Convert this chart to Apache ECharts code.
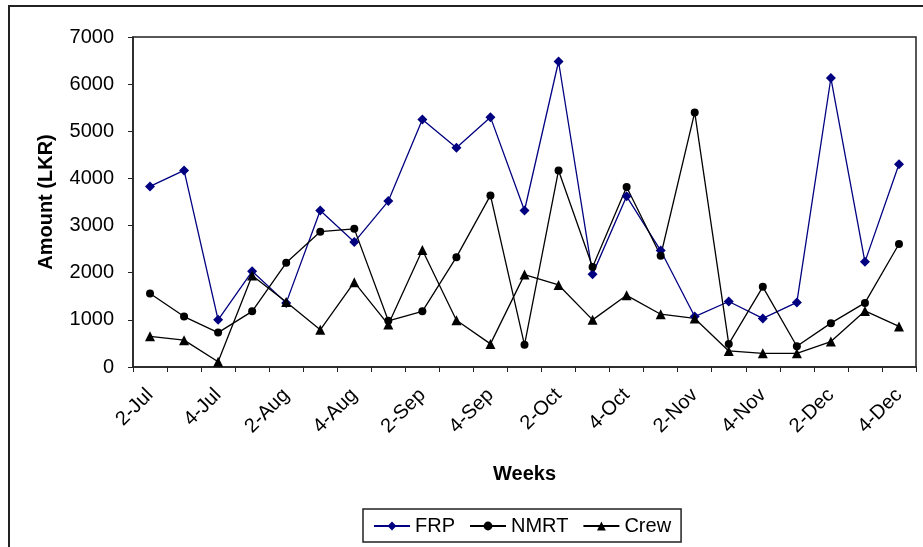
<!DOCTYPE html>
<html>
<head>
<meta charset="utf-8">
<script src="https://cdn.jsdelivr.net/npm/echarts@6/dist/echarts.min.js"></script>
<style>
  html, body { margin: 0; padding: 0; background: #fff; }
  #chart { width: 923px; height: 547px; }
</style>
</head>
<body>
<div id="chart"></div>
<script>
const weeks = ['2-Jul', '3-Jul', '4-Jul', '1-Aug', '2-Aug', '3-Aug', '4-Aug', '1-Sep', '2-Sep', '3-Sep', '4-Sep', '1-Oct',
  '2-Oct', '3-Oct', '4-Oct', '1-Nov', '2-Nov', '3-Nov', '4-Nov', '1-Dec', '2-Dec', '3-Dec', '4-Dec']
const frp = [3830, 4170, 1000, 2030, 1360, 3320, 2650, 3520, 5250, 4650, 5300, 3320,
  6480, 1970, 3620, 2470, 1070, 1390, 1030, 1370, 6130, 2230, 4300]
const nmrt = [1560, 1070, 730, 1180, 2210, 2870, 2930, 980, 1180, 2330, 3640, 470,
  4170, 2120, 3820, 2360, 5400, 490, 1700, 440, 930, 1360, 2610]
const crew = [650, 570, 110, 1940, 1380, 790, 1800, 900, 2480, 990, 490, 1960,
  1740, 1000, 1520, 1120, 1030, 340, 290, 290, 540, 1190, 860]
const yTicks = [0, 1000, 2000, 3000, 4000, 5000, 6000, 7000]

const font = '"Liberation Sans", Arial, sans-serif'

const makeSeries = (name, data, symbol, size, color) => ({
  name: name,
  type: 'line',
  data: data,
  symbol: symbol,
  symbolSize: size,
  showAllSymbol: true,
  lineStyle: { color: color, width: 1.3 },
  itemStyle: { color: color, borderWidth: 0 },
  emphasis: { disabled: true },
  animation: false
})

const chart = echarts.init(document.getElementById('chart'))
chart.setOption({
  animation: false,
  textStyle: { fontFamily: font },
  graphic: [{
    type: 'rect',
    shape: { x: 9, y: 6, width: 1000, height: 1000 },
    style: { fill: 'none', stroke: '#222', lineWidth: 2 }
  }],
  grid: {
    left: 133, right: 7, top: 37, bottom: 180,
    show: true, borderColor: '#222', borderWidth: 1.5
  },
  legend: {
    left: 363, top: 509, width: 320, height: 35,
    padding: [7, 10, 6, 10],
    borderColor: '#222', borderWidth: 1.5,
    itemWidth: 36, itemHeight: 11, itemGap: 14,
    textStyle: { fontSize: 20, color: '#000', fontFamily: font },
    data: ['FRP', 'NMRT', 'Crew']
  },
  xAxis: {
    type: 'category',
    data: weeks,
    boundaryGap: true,
    name: 'Weeks',
    nameLocation: 'middle',
    nameGap: 97,
    nameTextStyle: { fontSize: 20, fontWeight: 'bold', color: '#000', fontFamily: font },
    axisLine: { lineStyle: { color: '#222', width: 1.5 } },
    axisTick: { show: true, length: 5, lineStyle: { color: '#222' }, interval: 0 },
    axisLabel: { interval: 1, rotate: 45, margin: 25, fontSize: 20, color: '#000', fontFamily: font },
    splitLine: { show: false }
  },
  yAxis: {
    type: 'value',
    min: yTicks[0],
    max: yTicks[yTicks.length - 1],
    interval: 1000,
    name: 'Amount (LKR)',
    nameLocation: 'middle',
    nameGap: 77,
    nameTextStyle: { fontSize: 20, fontWeight: 'bold', color: '#000', fontFamily: font },
    axisLine: { show: true, lineStyle: { color: '#222', width: 1.5 } },
    axisTick: { show: true, length: 5, lineStyle: { color: '#222' } },
    axisLabel: { margin: 19, fontSize: 20, color: '#000', fontFamily: font, formatter: v => String(v) },
    splitLine: { show: false }
  },
  series: [
    makeSeries('FRP', frp, 'diamond', 10, '#000080'),
    makeSeries('NMRT', nmrt, 'circle', 8, '#000'),
    makeSeries('Crew', crew, 'triangle', 10, '#000')
  ]
})
</script>
</body>
</html>
